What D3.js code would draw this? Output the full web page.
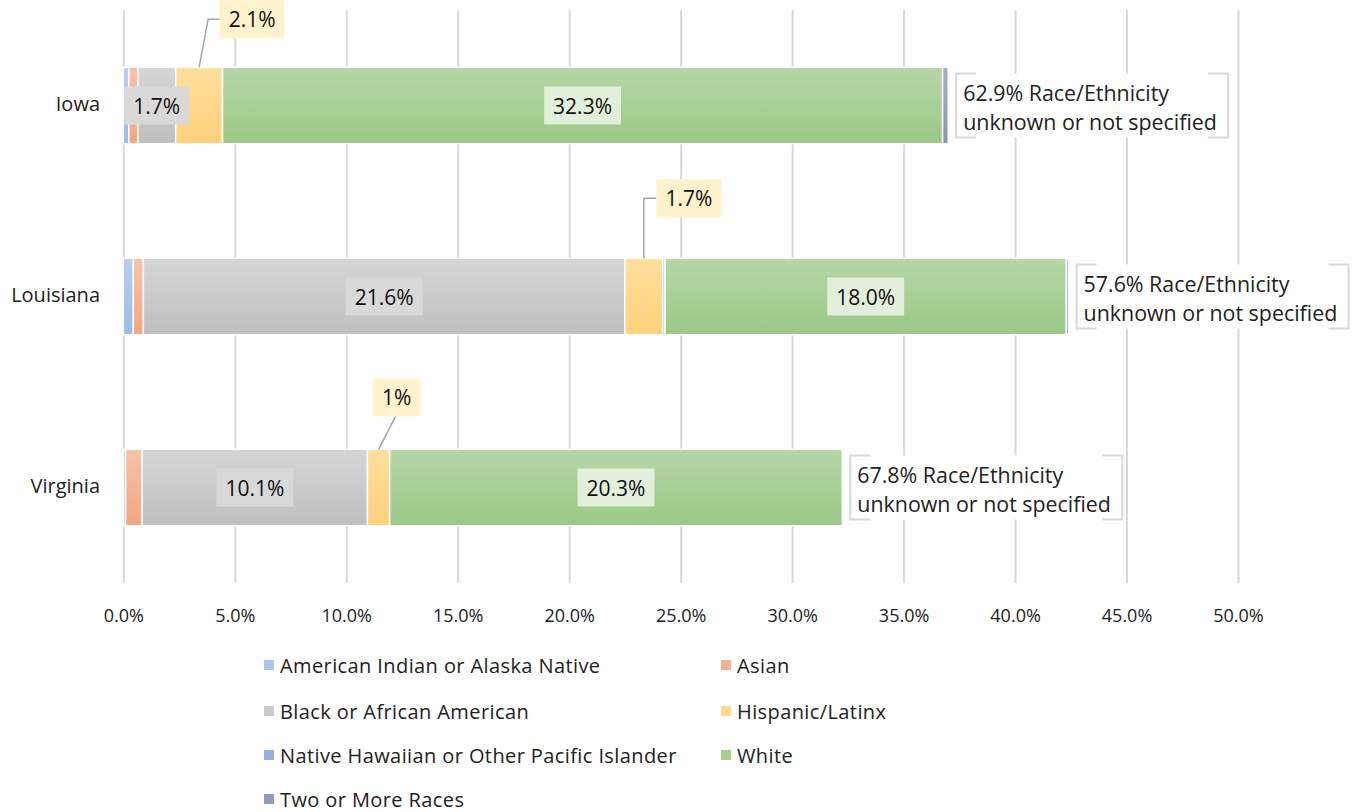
<!DOCTYPE html>
<html>
<head>
<meta charset="utf-8">
<script src="https://cdn.jsdelivr.net/npm/d3@7"></script>
<style>
  body { margin: 0; background: #fff; }
  svg { display: block; font-family: "Open Sans", sans-serif; }
</style>
</head>
<body>
<script>
// values in percent
var states = ["Iowa", "Louisiana", "Virginia"];
var races = ["American Indian or Alaska Native", "Asian", "Black or African American",
             "Hispanic/Latinx", "Native Hawaiian or Other Pacific Islander", "White", "Two or More Races"];
var aian     = [0.25, 0.45, 0.1];
var asian    = [0.4, 0.45, 0.75];
var black    = [1.7, 21.6, 10.1];
var hispanic = [2.1, 1.7, 1.0];
var nhpi     = [0, 0.1, 0];
var white    = [32.3, 18.0, 20.3];
var twoMore  = [0.25, 0.1, 0];
var unknown  = [62.9, 57.6, 67.8];
var blackLabels    = ["1.7%", "21.6%", "10.1%"];
var hispanicLabels = ["2.1%", "1.7%", "1%"];
var whiteLabels    = ["32.3%", "18.0%", "20.3%"];
var xTicks = [0, 5, 10, 15, 20, 25, 30, 35, 40, 45, 50];

var series = [aian, asian, black, hispanic, nhpi, white, twoMore];
var rows = states.map(function(s, i){
      var r = {state: s};
      races.forEach(function(k, j){ r[k] = series[j][i]; });
      return r;
});

// colours: [top, bottom, legend]
var colors = [
      ["#b7d0ec", "#9bbce6", "#a8c6e8"],
      ["#f7c3a6", "#f3a682", "#f3b297"],
      ["#d6d6d6", "#bfbfbf", "#cbcbcb"],
      ["#ffdf9f", "#ffd17a", "#ffd98d"],
      ["#9fb6e2", "#8ba6d9", "#97afdd"],
      ["#b6d7a7", "#9cc886", "#a9d08e"],
      ["#a2b2c9", "#8597b0", "#8f9fb8"]
];

var W = 1354, H = 812;
var svg = d3.select("body").append("svg").attr("width", W).attr("height", H);

var x = d3.scaleLinear().domain([0, 50]).range([123.3, 1238]);
var y = d3.scaleBand().domain(states).range([10, 583]).paddingInner(0.6).paddingOuter(0.3);

var defs = svg.append("defs");
colors.forEach(function(c, i){
      var g = defs.append("linearGradient").attr("id", "grad" + i)
            .attr("x1", 0).attr("y1", 0).attr("x2", 0).attr("y2", 1);
      g.append("stop").attr("offset", "0%").attr("stop-color", c[0]);
      g.append("stop").attr("offset", "100%").attr("stop-color", c[1]);
});

// gridlines + tick labels
var xAxis = svg.append("g")
      .attr("transform", "translate(0,583)")
      .call(d3.axisBottom(x).tickValues(xTicks).tickSize(-573).tickPadding(26)
            .tickFormat(function(d){ return d.toFixed(1) + "%"; }));
xAxis.select(".domain").remove();
xAxis.selectAll("line").attr("stroke", "#d9d9d9").attr("stroke-width", 2);
xAxis.selectAll("text").attr("font-size", 18).attr("fill", "#222").attr("font-family", "Open Sans");

// state labels
svg.selectAll("text.state")
      .data(states)
      .enter().append("text")
      .attr("class", "state")
      .attr("x", 100)
      .attr("y", function(d){ return y(d) + y.bandwidth() / 2; })
      .attr("text-anchor", "end")
      .attr("dominant-baseline", "middle")
      .attr("font-size", 20)
      .attr("fill", "#222")
      .text(function(d){ return d; });

// stacked bars
var stacked = d3.stack().keys(races)(rows);
svg.selectAll("g.layer")
      .data(stacked)
      .enter().append("g")
      .attr("class", "layer")
      .attr("fill", function(d, i){ return "url(#grad" + i + ")"; })
      .selectAll("rect")
      .data(function(d){ return d.filter(function(p){ return p[1] - p[0] > 0; }); })
      .enter().append("rect")
      .attr("x", function(d){ return x(d[0]); })
      .attr("y", function(d){ return y(d.data.state); })
      .attr("width", function(d){ return x(d[1]) - x(d[0]); })
      .attr("height", y.bandwidth())
      .attr("stroke", "#fff")
      .attr("stroke-width", 1.5);

function labelBox(g, cx, cy, txt, fill){
      var t = g.append("text")
            .attr("x", cx).attr("y", cy)
            .attr("text-anchor", "middle")
            .attr("dominant-baseline", "central")
            .attr("font-size", 21)
            .attr("fill", "#111")
            .text(txt);
      var w = t.node().getComputedTextLength() + 18;
      g.insert("rect", "text")
            .attr("x", cx - w / 2).attr("y", cy - 19)
            .attr("width", w).attr("height", 38)
            .attr("fill", fill);
      return w;
}

var labels = svg.append("g");
var blackLayer = stacked[2], hispLayer = stacked[3], whiteLayer = stacked[5];

states.forEach(function(s, i){
      var cy = y(s) + y.bandwidth() / 2;
      var b = blackLayer[i], w = whiteLayer[i];
      labelBox(labels.append("g"), x((b[0] + b[1]) / 2), cy, blackLabels[i], "#d9d9d9");
      labelBox(labels.append("g"), x((w[0] + w[1]) / 2), cy, whiteLabels[i], "#e2efda");
});

// hispanic callouts above the bar
var callouts = [
      {dx: 53, dy: -48, kind: "elbow", bend: 9},
      {dx: 45, dy: -60, kind: "elbow", bend: 0},
      {dx: 18, dy: -52, kind: "straight"}
];
states.forEach(function(s, i){
      var h = hispLayer[i];
      var ax = x((h[0] + h[1]) / 2), ay = y(s);
      var c = callouts[i];
      var bx = ax + c.dx, by = ay + c.dy;
      var g = labels.append("g");
      var bw = labelBox(g, bx, by, hispanicLabels[i], "#fff2cc");
      var path = c.kind === "elbow"
            ? "M" + ax + "," + ay + "L" + (ax + c.bend) + "," + by + "L" + (bx - bw / 2) + "," + by
            : "M" + ax + "," + ay + "L" + (bx - 1) + "," + (by + 19);
      g.insert("path", "rect").attr("d", path)
            .attr("fill", "none").attr("stroke", "#a6a6a6").attr("stroke-width", 1.5);
});

// unknown share callouts at the bar end
states.forEach(function(s, i){
      var last = stacked[stacked.length - 1][i];
      var left = x(last[1]) + 8, cy = y(s) + y.bandwidth() / 2;
      var bw = 272, bh = 64, top = cy - bh / 2;
      var g = svg.append("g");
      g.append("rect").attr("x", left).attr("y", top).attr("width", bw).attr("height", bh).attr("fill", "#fff");
      g.append("path")
            .attr("d", "M" + (left + 20) + "," + top + "H" + left + "V" + (top + bh) + "H" + (left + 20) +
                       "M" + (left + bw - 20) + "," + top + "H" + (left + bw) + "V" + (top + bh) + "H" + (left + bw - 20))
            .attr("fill", "none").attr("stroke", "#d9d9d9").attr("stroke-width", 2);
      var t = g.append("text").attr("font-size", 21.4).attr("fill", "#222");
      t.append("tspan").attr("x", left + 7).attr("y", cy - 5).text(unknown[i].toFixed(1) + "% Race/Ethnicity");
      t.append("tspan").attr("x", left + 7).attr("y", cy + 24).text("unknown or not specified");
});

// legend, two columns
var legendRowsY = [665, 711, 755, 799];
var legendColX = [264, 721];
var legend = svg.selectAll("g.legend")
      .data(races)
      .enter().append("g")
      .attr("class", "legend")
      .attr("transform", function(d, i){
            return "translate(" + legendColX[i % 2] + "," + legendRowsY[Math.floor(i / 2)] + ")";
      });
legend.append("rect")
      .attr("x", 0).attr("y", -5).attr("width", 10).attr("height", 10)
      .attr("fill", function(d, i){ return colors[i][2]; });
legend.append("text")
      .attr("x", 16).attr("y", 0)
      .attr("dominant-baseline", "central")
      .attr("font-size", 20)
      .attr("letter-spacing", 0.4)
      .attr("fill", "#222")
      .text(function(d){ return d; });
</script>
</body>
</html>
